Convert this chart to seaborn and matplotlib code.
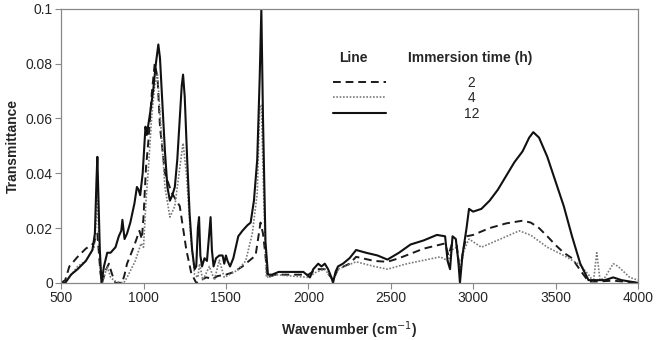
import pandas as pd
import numpy as np
import matplotlib
matplotlib.use("Agg")
import matplotlib.pyplot as plt
from matplotlib.lines import Line2D
from matplotlib.ticker import FuncFormatter
import seaborn as sns

sns.set_theme(style="white")
plt.rcParams["font.family"] = ["Liberation Sans", "DejaVu Sans"]

# FTIR spectra, one pair of lists per immersion time
wn_2h = [500, 525, 550, 600, 650, 700, 712, 720, 728, 738, 748, 770, 790, 810, 830, 870,
         885, 900, 940, 975, 990, 1000, 1015, 1030, 1050, 1068, 1085, 1100, 1130, 1170,
         1200, 1220, 1240, 1260, 1290, 1320, 1350, 1380, 1420, 1450, 1500, 1550, 1600,
         1650, 1680, 1700, 1710, 1725, 1740, 1752, 1800, 1900, 2000, 2050, 2100, 2150,
         2180, 2250, 2290, 2400, 2480, 2550, 2700, 2830, 2850, 2870, 2900, 2920, 2940,
         2960, 3000, 3100, 3200, 3300, 3350, 3400, 3450, 3500, 3550, 3600, 3650, 3700,
         3750, 3850, 4000]
tr_2h = [0, 0.001, 0.006, 0.0095, 0.0125, 0.0145, 0.017, 0.018, 0.012, 0.004, 0.0, 0.0045,
         0.007, 0.003, 0.0, 0.0, 0.003, 0.007, 0.013, 0.019, 0.016, 0.024, 0.042, 0.052,
         0.069, 0.080, 0.075, 0.057, 0.040, 0.033, 0.030, 0.028, 0.020, 0.012, 0.0035, 0.0,
         0.001, 0.002, 0.0015, 0.0025, 0.003, 0.004, 0.006, 0.0085, 0.010, 0.018, 0.022,
         0.018, 0.010, 0.002, 0.003, 0.003, 0.003, 0.005, 0.005, 0.001, 0.005, 0.007,
         0.0095, 0.008, 0.0077, 0.009, 0.0125, 0.0144, 0.010, 0.014, 0.014, 0.004, 0.012,
         0.017, 0.0175, 0.020, 0.0217, 0.0227, 0.022, 0.020, 0.017, 0.0138, 0.011, 0.009,
         0.0046, 0.0005, 0.0005, 0.0008, 0.0]

wn_4h = [500, 525, 600, 650, 700, 712, 720, 728, 740, 750, 780, 800, 830, 880, 900, 950,
         985, 1000, 1015, 1030, 1050, 1068, 1085, 1100, 1130, 1160, 1190, 1220, 1240, 1260,
         1285, 1310, 1330, 1340, 1360, 1400, 1430, 1460, 1490, 1520, 1570, 1620, 1660,
         1690, 1705, 1715, 1730, 1745, 1800, 1900, 2000, 2050, 2100, 2150, 2180, 2290,
         2400, 2480, 2600, 2800, 2850, 2870, 2900, 2920, 2945, 2975, 3050, 3150, 3280,
         3350, 3450, 3550, 3650, 3700, 3730, 3750, 3770, 3800, 3850, 3880, 3950, 4000]
tr_4h = [0, 0, 0.006, 0.008, 0.013, 0.022, 0.033, 0.018, 0.003, 0.0, 0.006, 0.002, 0.0005,
         0.0, 0.002, 0.008, 0.0144, 0.013, 0.030, 0.042, 0.061, 0.072, 0.076, 0.062, 0.035,
         0.024, 0.028, 0.042, 0.051, 0.040, 0.018, 0.003, 0.002, 0.007, 0.001, 0.006, 0.001,
         0.0083, 0.002, 0.003, 0.0046, 0.008, 0.018, 0.0326, 0.064, 0.065, 0.030, 0.002,
         0.003, 0.0025, 0.002, 0.004, 0.005, 0.001, 0.005, 0.0077, 0.006, 0.005, 0.007,
         0.0095, 0.008, 0.012, 0.013, 0.004, 0.012, 0.016, 0.013, 0.0156, 0.019, 0.0174,
         0.013, 0.010, 0.0065, 0.003, 0.0005, 0.011, 0.001, 0.002, 0.007, 0.006, 0.002, 0.001]

wn_12h = [500, 525, 560, 600, 650, 690, 705, 715, 720, 727, 735, 745, 760, 780, 800, 830,
          850, 865, 872, 885, 900, 920, 945, 960, 970, 980, 995, 1005, 1012, 1020, 1030,
          1045, 1060, 1075, 1090, 1100, 1115, 1130, 1145, 1160, 1175, 1190, 1205, 1220,
          1232, 1240, 1250, 1265, 1280, 1295, 1310, 1320, 1330, 1337, 1345, 1355, 1370,
          1385, 1400, 1407, 1415, 1425, 1440, 1460, 1480, 1490, 1500, 1510, 1525, 1545,
          1560, 1575, 1600, 1630, 1650, 1670, 1690, 1705, 1715, 1725, 1740, 1755, 1780,
          1820, 1860, 1900, 1940, 1970, 1990, 2010, 2030, 2060, 2080, 2100, 2120, 2140,
          2150, 2165, 2180, 2210, 2250, 2290, 2350, 2420, 2480, 2550, 2620, 2700, 2780,
          2830, 2845, 2860, 2875, 2895, 2910, 2920, 2935, 2960, 2975, 3000, 3050, 3100,
          3150, 3200, 3250, 3300, 3340, 3365, 3400, 3450, 3500, 3550, 3600, 3650, 3700,
          3750, 3800, 3850, 3900, 3950, 4000]
tr_12h = [0, 0, 0.003, 0.005, 0.008, 0.012, 0.018, 0.038, 0.046, 0.030, 0.012, 0.0, 0.006,
          0.011, 0.011, 0.013, 0.017, 0.019, 0.023, 0.016, 0.018, 0.022, 0.029, 0.035, 0.034,
          0.032, 0.040, 0.050, 0.057, 0.054, 0.058, 0.064, 0.071, 0.080, 0.087, 0.082, 0.065,
          0.048, 0.035, 0.030, 0.032, 0.035, 0.045, 0.060, 0.072, 0.076, 0.068, 0.045, 0.025,
          0.012, 0.005, 0.006, 0.020, 0.024, 0.010, 0.006, 0.009, 0.008, 0.019, 0.024, 0.012,
          0.006, 0.009, 0.010, 0.010, 0.007, 0.010, 0.008, 0.006, 0.009, 0.013, 0.017, 0.019,
          0.021, 0.022, 0.030, 0.045, 0.075, 0.100, 0.060, 0.015, 0.003, 0.003, 0.004, 0.004,
          0.004, 0.004, 0.004, 0.003, 0.002, 0.005, 0.007, 0.006, 0.007, 0.005, 0.002, 0.0,
          0.004, 0.006, 0.007, 0.009, 0.012, 0.011, 0.010, 0.0085, 0.011, 0.014, 0.0155,
          0.0175, 0.017, 0.008, 0.005, 0.017, 0.016, 0.008, 0.0, 0.010, 0.020, 0.027, 0.026,
          0.027, 0.030, 0.034, 0.039, 0.044, 0.048, 0.053, 0.055, 0.053, 0.046, 0.037, 0.028,
          0.017, 0.007, 0.001, 0.001, 0.001, 0.002, 0.001, 0.0005, 0]

hours = ["2", "4", "12"]

df = pd.concat([
    pd.DataFrame({"wn": wn_2h, "tr": tr_2h, "time": "2"}),
    pd.DataFrame({"wn": wn_4h, "tr": tr_4h, "time": "4"}),
    pd.DataFrame({"wn": wn_12h, "tr": tr_12h, "time": "12"}),
])

colors = {"2": "#1a1a1a", "4": "#7a7a7a", "12": "#111111"}
styles = {"2": (0, (4, 2.5)), "4": (0, (1, 1)), "12": "-"}
widths = {"2": 1.4, "4": 1.2, "12": 1.5}

fig = plt.figure(figsize=(6.57, 3.40), dpi=100)
ax = fig.add_axes([0.093, 0.168, 0.878, 0.806])

for h in hours:
    sns.lineplot(data=df[df["time"] == h], x="wn", y="tr", ax=ax,
                 color=colors[h], linestyle=styles[h], linewidth=widths[h],
                 estimator=None, sort=False)

ax.set_xlim(500, 4000)
ax.set_ylim(0, 0.1)
ax.set_xticks(np.arange(500, 4001, 500))
ax.set_yticks([0, 0.02, 0.04, 0.06, 0.08, 0.1])
ax.yaxis.set_major_formatter(FuncFormatter(lambda v, p: f"{v:g}"))
ax.tick_params(axis="both", direction="out", length=4, width=0.8, color="#888888",
               labelsize=10, pad=2, bottom=True, left=True)
for s in ax.spines.values():
    s.set_color("#888888")
    s.set_linewidth(0.9)

ax.set_xlabel("Wavenumber (cm$^{-1}$)", fontsize=10, fontweight="bold", labelpad=10)
ax.set_ylabel("Transmittance", fontsize=10, fontweight="bold", labelpad=4)

# legend laid out as a small table: "Line" | "Immersion time (h)"
handles = [Line2D([], [], color=colors[h], linestyle=styles[h], linewidth=widths[h])
           for h in hours]
leg = ax.legend(handles, [f" {h}" if len(h) == 1 else h for h in hours],
                loc="upper left", bbox_to_anchor=(0.4625, 0.777), frameon=False,
                fontsize=10, handlelength=3.8, handletextpad=5.6, labelspacing=0.12,
                borderaxespad=0)
ax.text(0.506, 0.821, "Line", transform=ax.transAxes, fontsize=10, fontweight="bold",
        ha="center", va="center")
ax.text(0.709, 0.821, "Immersion time (h)", transform=ax.transAxes, fontsize=10,
        fontweight="bold", ha="center", va="center")

fig.savefig("out.png", dpi=100)
